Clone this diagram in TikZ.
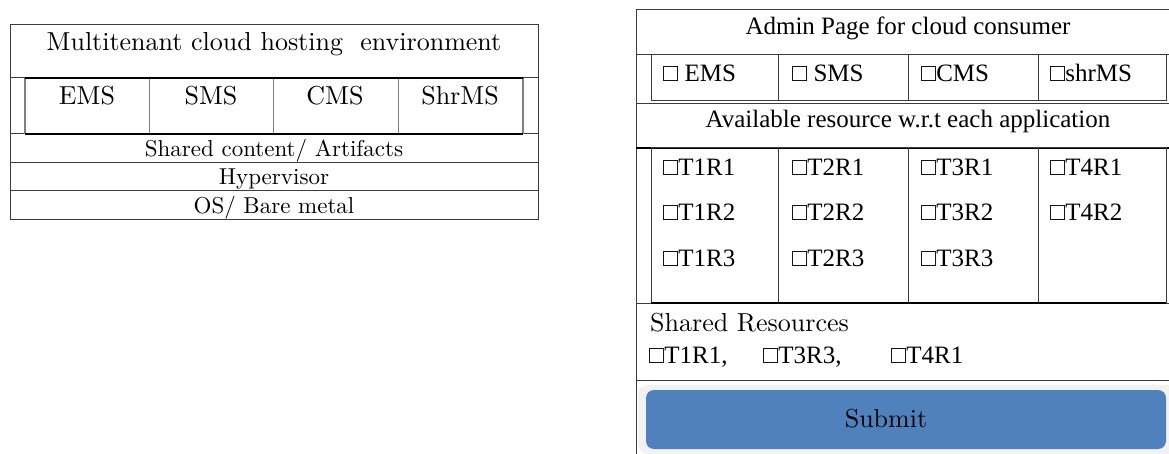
\documentclass[tikz,border=0pt]{standalone}
\usepackage{fontspec}
\setmainfont{lmroman10-regular}[Extension=.otf]
\newfontfamily\tnr{Liberation Serif}
\definecolor{btnblue}{RGB}{79,129,189}
\definecolor{frame}{RGB}{242,242,242}
\definecolor{linec}{RGB}{60,60,60}
\begin{document}
\begin{tikzpicture}[x=1pt,y=-1pt,
  lm/.style={inner sep=0pt,font=\fontsize{26}{30}\selectfont},
  lms/.style={inner sep=0pt,font=\fontsize{23}{27}\selectfont},
  tr/.style={inner sep=0pt,anchor=west,font=\tnr\fontsize{25}{29}\selectfont},
  trc/.style={inner sep=0pt,font=\tnr\fontsize{25}{29}\selectfont},
  rule/.style={draw=linec,line width=1pt},
  thickrule/.style={draw=black,line width=1.8pt}]
\useasboundingbox (0,0) rectangle (1169,454);
\begin{scope}
\clip (0,0) rectangle (1169,454);
% ---------------- left panel ----------------
\draw[rule] (10,25) rectangle (538,220);
\draw[rule] (10,78) -- (538,78);
\draw[rule] (10,134) -- (538,134);
\draw[rule] (10,163) -- (538,163);
\draw[rule] (10,191) -- (538,191);
\draw[draw=gray,line width=1.2pt] (25,78) -- (25,134) (523,78) -- (523,134);
\draw[draw=gray,line width=1pt] (149,78) -- (149,134) (273,78) -- (273,134) (398,78) -- (398,134);
\draw[thickrule] (25,78) -- (523,78) (25,134) -- (523,134);
\node[lm,anchor=base] (ltitle) at (274,51) {Multitenant cloud hosting\ \ environment};
\node[lm,anchor=base] (ems) at (87,105) {EMS};
\node[lm,anchor=base] (sms) at (211,105) {SMS};
\node[lm,anchor=base] (cms) at (335,105) {CMS};
\node[lm,anchor=base] (shrms) at (460,105) {ShrMS};
\node[lms,anchor=base] (shared) at (274,157) {Shared content/ Artifacts};
\node[lms,anchor=base] (hyper) at (274,185) {Hypervisor};
\node[lms,anchor=base] (os) at (274,214) {OS/ Bare metal};
% ---------------- right panel ----------------
\draw[rule] (636,460) -- (636,10) -- (1175,10);
\draw[rule] (636,55) -- (1175,55);
\draw[rule] (636,104) -- (1175,104);
\draw[rule] (636,303) -- (1175,303);
\draw[rule] (636,380) -- (1175,380);
\draw[thickrule] (636,148) -- (1175,148);
\draw[rule] (651,55) rectangle (1166,101);
\draw[rule] (778,55) -- (778,101) (908,55) -- (908,101) (1038,55) -- (1038,101);
\draw[rule] (651,148) rectangle (1166,303);
\draw[rule] (778,148) -- (778,303) (908,148) -- (908,303) (1038,148) -- (1038,303);
\draw[thickrule] (651,303) -- (1166,303);
\node[trc,anchor=base] (rtitle) at (908,35) {Admin Page for cloud consumer};
\node[tr,anchor=base west] (cems) at (663,82) {□ EMS};
\node[tr,anchor=base west] (csms) at (792,82) {□ SMS};
\node[tr,anchor=base west] (ccms) at (921,82) {□CMS};
\node[tr,anchor=base west] (cshr) at (1050,82) {□shrMS};
\node[trc,anchor=base] (avail) at (908,128) {Available resource w.r.t each application};
\foreach \c/\x in {1/663,2/792,3/921,4/1050}{
  \node[tr,anchor=base west] (t\c r1) at (\x,176) {□T\c R1};
}
\foreach \c/\x in {1/663,2/792,3/921,4/1050}{
  \node[tr,anchor=base west] (t\c r2) at (\x,221) {□T\c R2};
}
\foreach \c/\x in {1/663,2/792,3/921}{
  \node[tr,anchor=base west] (t\c r3) at (\x,266) {□T\c R3};
}
\node[lm,anchor=base west] (shres) at (650,331) {Shared Resources};
\node[tr,anchor=base west] (s1) at (649,363) {□T1R1,};
\node[tr,anchor=base west] (s2) at (763,363) {□T3R3,};
\node[tr,anchor=base west] (s3) at (891,363) {□T4R1};
\fill[frame,rounded corners=10pt] (638,385) rectangle (1180,454);
\fill[btnblue,rounded corners=8pt] (646,390) rectangle (1166,449);
\node[lm,anchor=base] (submit) at (886,427) {Submit};
\end{scope}
\end{tikzpicture}
\end{document}
